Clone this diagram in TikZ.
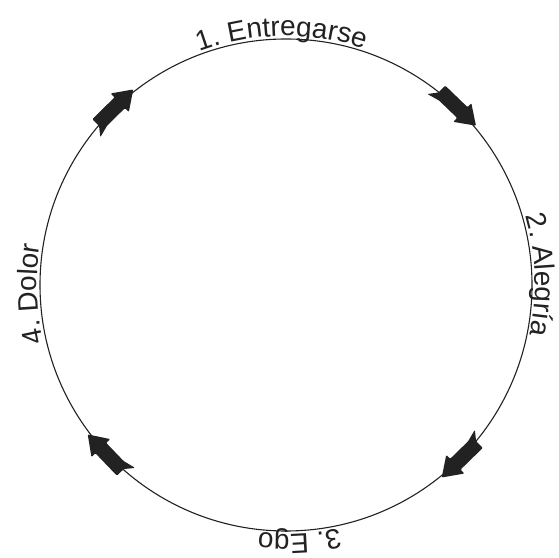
\documentclass[tikz,border=0pt]{standalone}
\usepackage{fontspec}
\setmainfont{Liberation Sans}
\usetikzlibrary{decorations.text}
\newcommand\lblfont{\fontsize{28}{30}\selectfont}
\definecolor{ink}{HTML}{222222}
\tikzset{
  ringstyle/.style={circle, draw=ink, line width=1.1pt, inner sep=0pt, minimum size=492pt},
  arrowfill/.style={fill=ink, rounded corners=1pt},
  blockarrow/.pic={
    \fill[arrowfill] (26,0) -- (7,13) -- (7,7.5) -- (-24,7.5) -- (-24,-2) -- (-31,-11) -- (-18,-7.5) -- (7,-7.5) -- (7,-13) -- cycle;
  },
  circtext/.style={decorate, decoration={text along path, text align=center, text={|\lblfont\color{ink}|#1}}}
}
\begin{document}
\begin{tikzpicture}[x=1pt, y=1pt]
\useasboundingbox (0,0) rectangle (559,557);
\node[ringstyle] (ring) at (286,272) {};
% arrows (clockwise)
\pic[rotate=-44] at (ring.46) {blockarrow};
\pic[rotate=-135.7] at (ring.-45.7) {blockarrow};
\pic[rotate=-226.2] at (ring.223.8) {blockarrow};
\pic[rotate=44.5] at (ring.134.5) {blockarrow};
% labels
\path[shift={(ring.center)}, circtext={1. Entregarse}] (151:249) arc[start angle=151, end angle=31, radius=249];
\path[shift={(ring.center)}, circtext={2. Alegría}] (62.3:249) arc[start angle=62.3, end angle=-57.7, radius=249];
\path[shift={(ring.center)}, circtext={3. Ego}] (-27:249) arc[start angle=-27, end angle=-147, radius=249];
\path[shift={(ring.center)}, circtext={4. Dolor}] (242:249) arc[start angle=242, end angle=122, radius=249];
\end{tikzpicture}
\end{document}
